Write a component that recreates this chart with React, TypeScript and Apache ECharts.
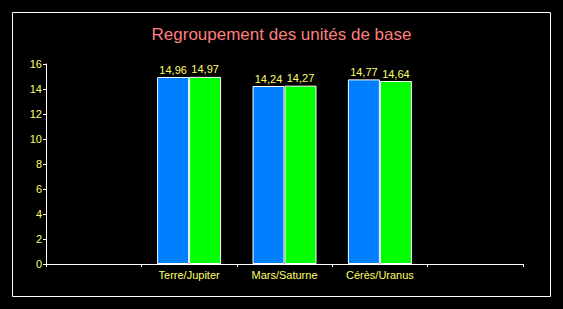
import React, { useEffect, useRef } from "react";
import * as echarts from "echarts";

const categories = ["", "Terre/Jupiter", "Mars/Saturne", "Cérès/Uranus", ""];
const seriesA = [null, 14.96, 14.24, 14.77, null];
const seriesB = [null, 14.97, 14.27, 14.64, null];
const yTicks = { min: 0, max: 16, interval: 2 };

const FONT = "'Liberation Sans', Arial, sans-serif";
const YELLOW = "#ffff66";

export default function App() {
  const ref = useRef<HTMLDivElement>(null);
  useEffect(() => {
    if (!ref.current) return;
    const chart = echarts.init(ref.current, null, { renderer: "svg" });
    const label = {
      show: true,
      position: "top" as const,
      distance: 2,
      color: YELLOW,
      fontFamily: FONT,
      fontSize: 11,
      formatter: (p: any) => String(p.value).replace(".", ","),
    };
    chart.setOption({
      animation: false,
      backgroundColor: "#000000",
      title: {
        text: "Regroupement des unités de base",
        left: "center",
        top: 21,
        textStyle: { color: "#ff7f7f", fontFamily: FONT, fontSize: 17, fontWeight: "normal" },
      },
      graphic: [
        {
          type: "rect",
          shape: { x: 12.5, y: 12.5, width: 538, height: 284 },
          style: { fill: "none", stroke: "#ffffff", lineWidth: 1 },
          silent: true,
        },
      ],
      grid: { left: 46, right: 40, top: 64, bottom: 45, containLabel: false },
      xAxis: {
        type: "category",
        data: categories,
        boundaryGap: true,
        axisLine: { lineStyle: { color: "#ffffff", width: 1 } },
        axisTick: { show: true, length: 3, alignWithLabel: false, lineStyle: { color: "#ffffff" } },
        axisLabel: { color: YELLOW, fontFamily: FONT, fontSize: 11, margin: 5, interval: 0 },
        splitLine: { show: false },
      },
      yAxis: {
        type: "value",
        min: yTicks.min,
        max: yTicks.max,
        interval: yTicks.interval,
        axisLine: { show: true, lineStyle: { color: "#ffffff", width: 1 } },
        axisTick: { show: true, length: 3, lineStyle: { color: "#ffffff" } },
        axisLabel: { color: YELLOW, fontFamily: FONT, fontSize: 11, margin: 4 },
        splitLine: { show: false },
      },
      series: [
        {
          name: "Série 1",
          type: "bar",
          data: seriesA,
          barWidth: 32,
          barGap: "0%",
          itemStyle: { color: "#0080ff", borderColor: "#ffffff", borderWidth: 1 },
          label,
        },
        {
          name: "Série 2",
          type: "bar",
          data: seriesB,
          barWidth: 32,
          barGap: "0%",
          itemStyle: { color: "#00ff00", borderColor: "#ffffff", borderWidth: 1 },
          label,
        },
      ],
    });
    return () => chart.dispose();
  }, []);
  return (
    <div
      ref={ref}
      style={{ position: "fixed", left: 0, top: 0, width: 563, height: 309, background: "#000" }}
    />
  );
}
